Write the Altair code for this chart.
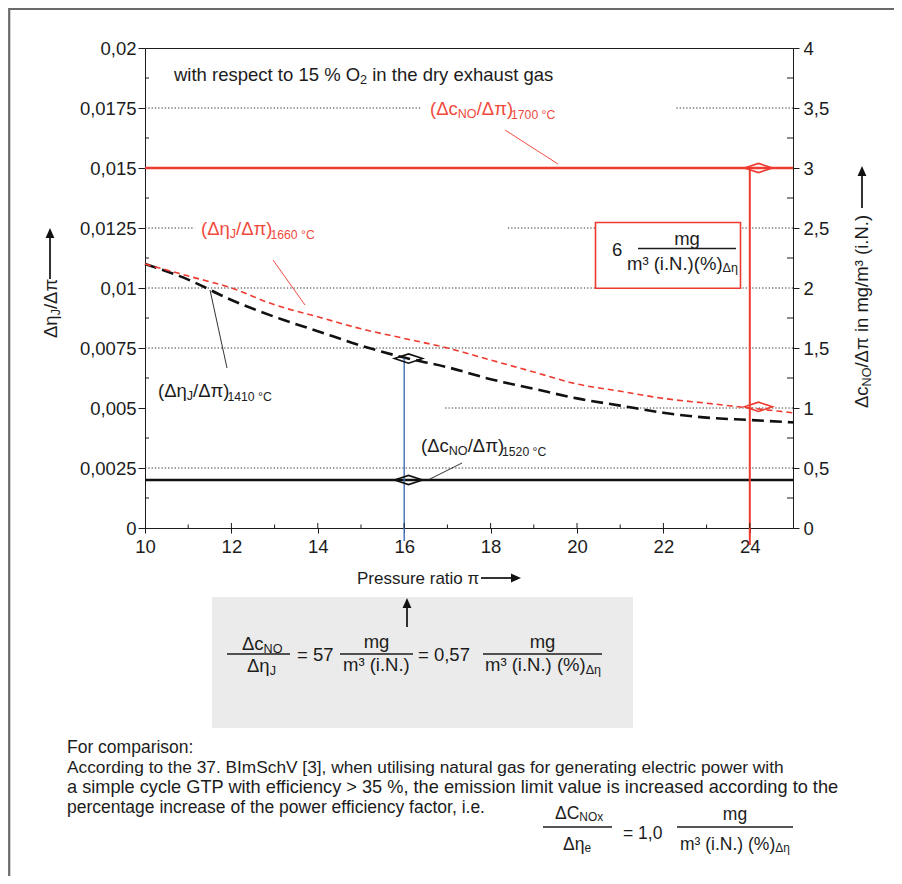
import math
import altair as alt
import pandas as pd

# ---------------- values ----------------
pi_points = [10, 11, 12, 13, 14, 15, 16, 17, 18, 19, 20, 21, 22, 23, 24, 25]
eta_1410 = [0.0110, 0.01035, 0.0095, 0.0088, 0.0082, 0.0076, 0.0071, 0.0067,
            0.0062, 0.0058, 0.0054, 0.0051, 0.0048, 0.0046, 0.0045, 0.0044]
eta_1660 = [0.0110, 0.0105, 0.0100, 0.0093, 0.0088, 0.0083, 0.0079, 0.0075,
            0.0070, 0.0065, 0.0060, 0.0057, 0.0054, 0.0052, 0.0050, 0.0048]
pi_span = [10, 25]
cno_1700 = [3.0, 3.0]          # right axis, mg/m3 (i.N.)
cno_1520 = [0.4, 0.4]
op_pi = [16.1, 24.2]           # marked operating points
op_eta = [0.00706, 0.00505]
op_cno = [0.4, 3.0]
pi_marked = [16, 24]
left_ticks = [0, 0.0025, 0.005, 0.0075, 0.01, 0.0125, 0.015, 0.0175, 0.02]
left_minor = [0.00125, 0.00375, 0.00625, 0.00875, 0.01125, 0.01375, 0.01625, 0.01875]
right_ticks = [0, 0.5, 1, 1.5, 2, 2.5, 3, 3.5, 4]
x_ticks = [10, 12, 14, 16, 18, 20, 22, 24]
x_minor = [11, 13, 15, 17, 19, 21, 23]
grid_segments = [  # (level, from pi, to pi)
    (0.0175, 10, 16.4), (0.0175, 22.3, 25),
    (0.0125, 10, 11.15), (0.0125, 18.4, 25),
    (0.01, 10, 25), (0.0075, 10, 25), (0.005, 16.95, 25), (0.0025, 10, 25),
]
paragraph = [
    "For comparison:",
    "According to the 37. BImSchV [3], when utilising natural gas for generating electric power with",
    "a simple cycle GTP with efficiency > 35 %, the emission limit value is increased according to the",
    "percentage increase of the power efficiency factor, i.e.",
]
paragraph_sizes = [17.5, 17.3, 18.2, 17.5]

# ---------------- layout helpers ----------------
OX, OY, W, H = 145, 48, 648, 480
PAD_L, PAD_T = OX - 8, OY - 8
TOTAL_W, TOTAL_H = 886, 868
FONT = "Liberation Sans, Arial, Helvetica, sans-serif"
DARK = "#1c1c1c"
RED = "#ee3b2f"
REDT = "#f04a3e"
BLUE = "#3f6fb5"


def dx(px):
    return 10 + (px - OX) / W * 15


def dy(py):
    return (OY + H - py) / H * 0.02


CW = {' ': 278, '(': 333, ')': 333, '/': 278, '.': 278, ',': 278, '%': 889, '°': 400,
      '=': 584, '>': 584, '[': 278, ']': 278, ':': 278, '³': 333, '-': 333,
      'Δ': 668, 'η': 556, 'π': 580,
      'A': 667, 'B': 667, 'C': 722, 'D': 722, 'E': 667, 'F': 611, 'G': 778, 'H': 722,
      'I': 278, 'J': 500, 'K': 667, 'L': 556, 'M': 833, 'N': 722, 'O': 778, 'P': 667,
      'Q': 778, 'R': 722, 'S': 667, 'T': 611, 'U': 722, 'V': 667, 'W': 944, 'X': 667,
      'Y': 667, 'Z': 611, 'a': 556, 'b': 556, 'c': 500, 'd': 556, 'e': 556, 'f': 278,
      'g': 556, 'h': 556, 'i': 222, 'j': 222, 'k': 500, 'l': 222, 'm': 833, 'n': 556,
      'o': 556, 'p': 556, 'q': 556, 'r': 333, 's': 500, 't': 278, 'u': 556, 'v': 500,
      'w': 722, 'x': 500, 'y': 500, 'z': 500}


def tw(s, fs):
    return sum(CW.get(ch, 556) for ch in s) * fs / 1000


KIND = {"n": (1.0, 0.0), "s": (0.68, 0.14), "t": (0.66, 0.2)}


def rich(px, py, pieces, fs, col, ang=0):
    a = math.radians(ang)
    ux, uy = math.cos(a), math.sin(a)
    vx, vy = -math.sin(a), math.cos(a)
    off = 0.0
    rows = []
    for s, k in pieces:
        sc, sh = KIND[k]
        f = fs * sc
        d = fs * sh
        lead = len(s) - len(s.lstrip(" "))
        off += tw(" " * lead, f)
        core = s.strip(" ")
        x = px + ux * off + vx * d
        y = py + uy * off + vy * d
        rows.append(dict(x=dx(x), y=dy(y), t=core, fs=f, col=col, ang=ang))
        off += tw(s[lead:], f)
    return rows


def centered(px, py, s, fs, col):
    return [dict(x=dx(px), y=dy(py), t=s, fs=fs, col=col, ang=0)]


def seg(x1, y1, x2, y2, col, sw):
    return dict(x=dx(x1), y=dy(y1), x2=dx(x2), y2=dy(y2), col=col, sw=sw)


F = 18.5
FB = 17.5
left_text, center_text = [], []
left_text += rich(174, 81, [("with respect to 15 % O", "n"), ("2", "s"), (" in the dry exhaust gas", "n")], F, DARK)
left_text += rich(430, 115, [("(Δc", "n"), ("NO", "s"), ("/Δπ)", "n"), ("1700 °C", "t")], F, REDT)
left_text += rich(201, 235, [("(Δη", "n"), ("J", "s"), ("/Δπ)", "n"), ("1660 °C", "t")], F, REDT)
left_text += rich(158, 397, [("(Δη", "n"), ("J", "s"), ("/Δπ)", "n"), ("1410 °C", "t")], F, DARK)
left_text += rich(421, 452, [("(Δc", "n"), ("NO", "s"), ("/Δπ)", "n"), ("1520 °C", "t")], F, DARK)
# red box
left_text += rich(612, 256, [("6", "n")], F, DARK)
center_text += centered(687, 245, "mg", F, DARK)
left_text += rich(627, 269.5, [("m³ (i.N.)(%)", "n"), ("Δη", "s")], F, DARK)
# axis titles
left_text += rich(57, 338, [("Δη", "n"), ("J", "s"), ("/Δπ", "n")], F, DARK, 270)
left_text += rich(868, 408, [("Δc", "n"), ("NO", "s"), ("/Δπ in mg/m³ (i.N.)", "n")], F, DARK, 270)
left_text += rich(357, 584, [("Pressure ratio π", "n")], 17, DARK)
# grey box formula
left_text += rich(242, 650, [("Δc", "n"), ("NO", "s")], F, DARK)
left_text += rich(247, 672, [("Δη", "n"), ("J", "s")], F, DARK)
left_text += rich(297, 661, [("= 57", "n")], F, DARK)
center_text += centered(376.5, 648, "mg", F, DARK)
left_text += rich(343, 671, [("m³ (i.N.)", "n")], F, DARK)
left_text += rich(418, 661, [("= 0,57", "n")], F, DARK)
center_text += centered(542.5, 648, "mg", F, DARK)
left_text += rich(485, 671, [("m³ (i.N.) (%)", "n"), ("Δη", "s")], F, DARK)
# paragraph
for i, (line, size) in enumerate(zip(paragraph, paragraph_sizes)):
    left_text += rich(67, 753 + 20 * i, [(line, "n")], size, DARK)
# bottom formula
left_text += rich(555, 819, [("ΔC", "n"), ("NOx", "s")], FB, DARK)
left_text += rich(563, 850, [("Δη", "n"), ("e", "s")], FB, DARK)
left_text += rich(623, 839, [("= 1,0", "n")], FB, DARK)
center_text += centered(735, 820, "mg", FB, DARK)
left_text += rich(680, 850, [("m³ (i.N.) (%)", "n"), ("Δη", "s")], FB, DARK)

segments = [
    dict(x=pi_marked[0], x2=pi_marked[0], y=op_eta[0], y2=dy(541), col=BLUE, sw=1.4),
    dict(x=pi_marked[1], x2=pi_marked[1], y=cno_1700[0] / 200, y2=dy(545), col=RED, sw=2.0),
    seg(505, 130, 558, 164, RED, 0.9),
    seg(273, 260, 305, 305, RED, 0.9),
    seg(210, 290, 227, 368, DARK, 0.9),
    seg(462, 463, 428, 480, DARK, 0.9),
    seg(227, 654, 290, 654, DARK, 1.3),
    seg(340, 654, 413, 654, DARK, 1.3),
    seg(483, 654, 602, 654, DARK, 1.3),
    seg(638, 248.5, 736, 248.5, DARK, 1.3),
    seg(543, 827, 612, 827, DARK, 1.3),
    seg(677, 827, 793, 827, DARK, 1.3),
    seg(50, 279, 50, 234, DARK, 1.8),
    seg(862, 208, 862, 172, DARK, 1.8),
    seg(481, 578, 513, 578, DARK, 1.8),
    seg(407, 627, 407, 604, DARK, 1.8),
]
for v in left_minor:
    segments.append(dict(x=10, x2=dx(OX + 4), y=v, y2=v, col=DARK, sw=1))
    segments.append(dict(x=dx(OX + W - 6), x2=25, y=v, y2=v, col=DARK, sw=1))
for v in x_minor:
    segments.append(dict(x=v, x2=v, y=0, y2=dy(OY + H - 3.5), col=DARK, sw=1))
for v in x_ticks[1:]:
    segments.append(dict(x=v, x2=v, y=0, y2=dy(OY + H - 5), col=DARK, sw=1))

XS = alt.Scale(domain=[10, 25], nice=False, zero=False)
YL = alt.Scale(domain=[0, 0.02], nice=False, zero=False)
YR = alt.Scale(domain=[0, 4], nice=False, zero=False)
LBL = "replace(toString(datum.value), '.', ',')"

# the same x axis object is given to every layer so the shared axis merges cleanly
x_axis = alt.Axis(values=x_ticks, title=None, grid=False, tickSize=5, labelPadding=4,
                  labelExpr=LBL, orient="bottom", labelFlush=False, labelOverlap=False)
left_axis = alt.Axis(values=left_ticks, orient="left", title=None, grid=False,
                     tickSize=7, labelPadding=2, labelExpr=LBL, labelFlush=False,
                     labelOverlap=False)
right_axis = alt.Axis(values=right_ticks, orient="right", title=None, grid=False,
                      tickSize=6, labelPadding=4, labelExpr=LBL, labelFlush=False,
                      labelOverlap=False)


def xy(xf, yf, ys=YL, yaxis=None):
    yk = dict(scale=ys, axis=yaxis)
    return dict(x=alt.X(xf, type="quantitative", scale=XS, axis=x_axis),
                y=alt.Y(yf, type="quantitative", **yk))


frame = alt.Chart(pd.DataFrame([dict(x=dx(9.2), x2=dx(1300), y=dy(9), y2=dy(1300))])).mark_rect(
    filled=False, stroke="#6a6a6a", strokeWidth=2.2).encode(x2="x2:Q", y2="y2:Q", **xy("x", "y"))

grey = alt.Chart(pd.DataFrame([dict(x=dx(212), x2=dx(633), y=dy(597), y2=dy(728))])).mark_rect(
    color="#ebebeb").encode(x2="x2:Q", y2="y2:Q", **xy("x", "y"))

grid = alt.Chart(pd.DataFrame([dict(y=a, x=b, x2=c) for a, b, c in grid_segments])).mark_rule(
    color="#333333", strokeWidth=1, strokeDash=[1.3, 2]).encode(x2="x2:Q", **xy("x", "y"))

redbox = alt.Chart(pd.DataFrame([dict(x=dx(595.5), x2=dx(740.5), y=dy(222.5), y2=dy(288.3))])).mark_rect(
    fill="white", stroke=RED, strokeWidth=1.6).encode(x2="x2:Q", y2="y2:Q", **xy("x", "y"))

df1410 = pd.DataFrame({"pi": pi_points, "v": eta_1410})
df1660 = pd.DataFrame({"pi": pi_points, "v": eta_1660})
curve1410 = alt.Chart(df1410).mark_line(color="#111111", strokeWidth=2.6, strokeDash=[12, 6],
                                        interpolate="monotone").encode(
    **xy("pi", "v", YL, left_axis))
curve1660 = alt.Chart(df1660).mark_line(color=RED, strokeWidth=1.6, strokeDash=[6, 4],
                                        interpolate="monotone").encode(**xy("pi", "v"))

line1700 = alt.Chart(pd.DataFrame({"pi": pi_span, "c": cno_1700})).mark_line(
    color=RED, strokeWidth=2.4).encode(**xy("pi", "c", YR, right_axis))
line1520 = alt.Chart(pd.DataFrame({"pi": pi_span, "c": cno_1520})).mark_line(
    color="#111111", strokeWidth=2.4).encode(**xy("pi", "c", YR))

rules = alt.Chart(pd.DataFrame(segments)).mark_rule().encode(
    x2="x2:Q", y2="y2:Q",
    color=alt.Color("col:N", scale=None, legend=None),
    strokeWidth=alt.StrokeWidth("sw:Q", scale=None, legend=None),
    **xy("x", "y"))

DIAMOND = "M-1,0L0,-0.33L1,0L0,0.33Z"
dia_left = alt.Chart(pd.DataFrame({"pi": op_pi, "v": op_eta, "c": ["#111111", RED]})).mark_point(
    shape=DIAMOND, size=784, filled=False, strokeWidth=1.6, opacity=1).encode(
    stroke=alt.Stroke("c:N", scale=None, legend=None), **xy("pi", "v"))
dia_right = alt.Chart(pd.DataFrame({"pi": op_pi, "c": op_cno, "k": ["#111111", RED]})).mark_point(
    shape=DIAMOND, size=784, filled=False, strokeWidth=1.6, opacity=1).encode(
    stroke=alt.Stroke("k:N", scale=None, legend=None), **xy("pi", "c", YR))

UP = "M0,-1L0.75,0.7L-0.75,0.7Z"
RIGHT = "M1,0L-0.7,0.75L-0.7,-0.75Z"
heads_up = alt.Chart(pd.DataFrame([dict(x=dx(50), y=dy(228 + 5.9)), dict(x=dx(862), y=dy(166 + 5.9)),
                                   dict(x=dx(407), y=dy(598 + 5.9))])).mark_point(
    shape=UP, size=139, filled=True, color="#111111", opacity=1).encode(**xy("x", "y"))
heads_right = alt.Chart(pd.DataFrame([dict(x=dx(521 - 5.9), y=dy(578))])).mark_point(
    shape=RIGHT, size=139, filled=True, color="#111111", opacity=1).encode(**xy("x", "y"))


def text_layer(rows, align):
    return alt.Chart(pd.DataFrame(rows)).mark_text(
        align=align, baseline="alphabetic", font=FONT).encode(
        text="t:N",
        size=alt.Size("fs:Q", scale=None, legend=None),
        color=alt.Color("col:N", scale=None, legend=None),
        angle=alt.Angle("ang:Q", scale=None),
        **xy("x", "y"))


chart = alt.layer(
    frame, grey, grid, redbox, curve1410, curve1660, line1700, line1520, rules,
    dia_left, dia_right, heads_up, heads_right,
    text_layer(left_text, "left"), text_layer(center_text, "center"),
).resolve_scale(y="independent").properties(
    width=W, height=H,
    autosize=alt.AutoSizeParams(type="none"),
    padding={"left": PAD_L, "top": PAD_T, "right": TOTAL_W - PAD_L - W,
             "bottom": TOTAL_H - PAD_T - H},
    background="white",
).configure_view(stroke=DARK, strokeWidth=1).configure_axis(
    labelFont=FONT, labelFontSize=F, labelColor=DARK, domainColor=DARK, tickColor=DARK,
    domainWidth=1, tickWidth=1)

chart.save("out.html", embed_options={"renderer": "svg", "actions": False})
